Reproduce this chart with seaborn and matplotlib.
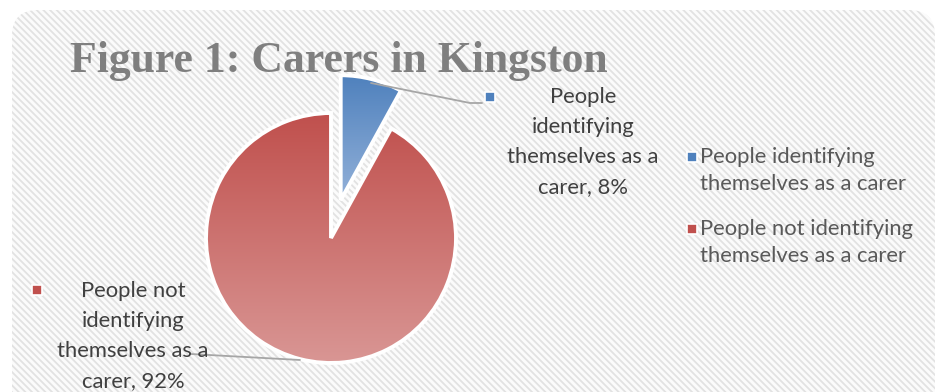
import numpy as np
import matplotlib
matplotlib.use("Agg")
import matplotlib.pyplot as plt
from matplotlib.patches import FancyBboxPatch
import seaborn as sns

# ---- data ----
categories = ["People identifying\nthemselves as a carer",
              "People not identifying\nthemselves as a carer"]
label_texts = ["People\nidentifying\nthemselves as a\ncarer, 8%",
               "People not\nidentifying\nthemselves as a\ncarer, 92%"]
shares = [8, 92]
top_colors = ["#4f81bd", "#c0504d"]
bottom_colors = ["#93b1d9", "#d99694"]

sns.set_theme(style="white")
plt.rcParams["font.family"] = ["Lato", "DejaVu Sans"]
plt.rcParams["hatch.linewidth"] = 1.3

W, H = 938, 392
fig = plt.figure(figsize=(W / 100, H / 100), dpi=100)
ax = fig.add_axes([0, 0, 1, 1])

# hatched chart area with rounded corners
bg = FancyBboxPatch((12, -40), 923, 422,
                    boxstyle="round,pad=0,rounding_size=26",
                    facecolor="#fbfbfb", edgecolor="#e2e2e2", linewidth=0,
                    hatch="\\\\\\\\\\", zorder=0)
ax.add_patch(bg)

# pie: start at 12 o'clock, clockwise, the carers slice pulled out
radius = 125
center = (331, H - 238)
wedges, _ = ax.pie(shares, startangle=90, counterclock=False,
                   explode=[39, 0], radius=radius, center=center,
                   wedgeprops=dict(edgecolor="white", linewidth=2.8))

# vertical gradient fill for each slice
for w, c0, c1 in zip(wedges, top_colors, bottom_colors):
    w.set_zorder(3)
    path = w.get_patch_transform().transform_path(w.get_path())
    ext = path.get_extents()
    grad = np.array(sns.blend_palette([c0, c1], 256))[:, None, :]
    im = ax.imshow(grad, extent=(ext.x0, ext.x1, ext.y0, ext.y1),
                   origin="upper", aspect="auto", zorder=2,
                   interpolation="bilinear")
    im.set_clip_path(w)
    w.set_facecolor("none")

ax.set_xlim(0, W)
ax.set_ylim(0, H)
ax.set_aspect("auto")
ax.axis("off")

# title
ax.text(70, H - 72, "Figure 1: Carers in Kingston", fontsize=31.5,
        fontweight="bold", family=["Liberation Serif", "DejaVu Serif"],
        color="#7f7f7f", ha="left", va="baseline", zorder=5)

text_color = "#404040"
label_size = 15.8
# data label: carers
ax.plot([371, 470, 482], [H - 83, H - 103, H - 103], color="#a6a6a6",
        lw=1.3, zorder=4)
ax.plot(490, H - 97, marker="s", ms=7, mfc=top_colors[0], mec="white",
        mew=1.2, zorder=5)
ax.text(583, H - 142, label_texts[0], fontsize=label_size, color=text_color,
        ha="center", va="center", linespacing=1.63, zorder=5)

# data label: non-carers
ax.plot([191, 300], [H - 354, H - 360], color="#a6a6a6", lw=1.3, zorder=4)
ax.plot(37, H - 290, marker="s", ms=7, mfc=top_colors[1], mec="white",
        mew=1.2, zorder=5)
ax.text(133, H - 336, label_texts[1], fontsize=label_size, color=text_color,
        ha="center", va="center", linespacing=1.63, zorder=5)

# legend: square key beside the first line of each two-line entry
legend_y = [157, 229]
for cat, c, y in zip(categories, top_colors, legend_y):
    ax.plot(692, H - y, marker="s", ms=7, mfc=c, mec="white", mew=1.2,
            zorder=6)
    ax.text(700, H - y - 13.5, cat, fontsize=15.8, color="#595959",
            ha="left", va="center", linespacing=1.48, zorder=6)

fig.savefig("out.png", dpi=100)
